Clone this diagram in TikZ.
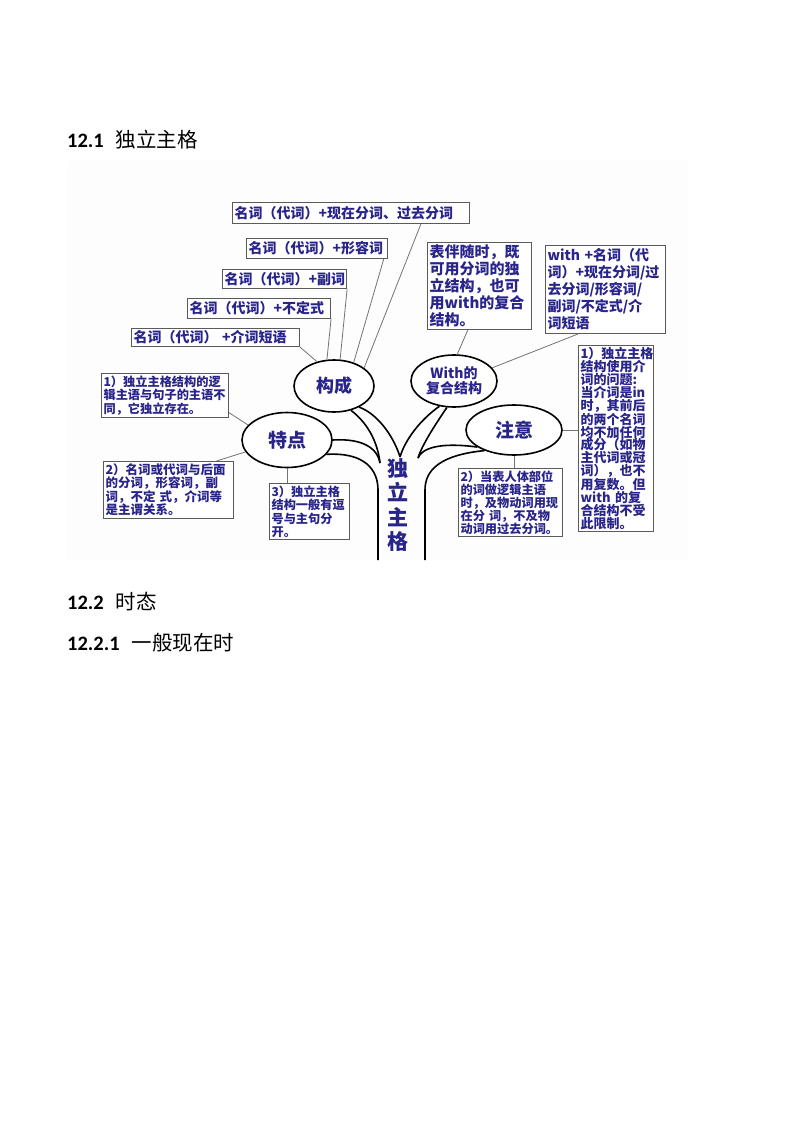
\documentclass[tikz,border=0pt]{standalone}
\usepackage{fontspec}
\setmainfont{Carlito}
\newfontfamily\cjk{Noto Sans CJK SC}
\usetikzlibrary{shapes.geometric}
\definecolor{ink}{RGB}{40,36,138}
\definecolor{frame}{RGB}{90,90,90}

\begin{document}
\begin{tikzpicture}[
	x=1pt, y=-1pt,
	note/.style={rectangle, draw=frame, line width=1.1pt, fill=white, text=ink, inner sep=2pt, align=left, anchor=north west},
	bubble/.style={ellipse, draw, line width=1.6pt, fill=white, text=ink, inner sep=0pt, align=center},
	link/.style={draw=black!55, line width=0.8pt},
	branch/.style={line width=1.6pt},
	heading/.style={anchor=west, inner sep=0pt, font=\fontsize{20.5}{24}\selectfont}
	]
	\useasboundingbox (0,0) rectangle (800,1132);
	\fill[black!0.6] (67,161) rectangle (688,560);
	
	% Headings
	\node[heading] (h121) at (67,140) {\textbf{12.1}\hspace{12pt}{\cjk 独立主格}};
	\node[heading] (h122) at (67,602) {\textbf{12.2}\hspace{12pt}{\cjk 时态}};
	\node[heading] (h1221) at (67,643) {\textbf{12.2.1}\hspace{12pt}{\cjk 一般现在时}};
	
	% Bubbles
	\node[bubble, minimum width=80, minimum height=52, font={\cjk\bfseries\fontsize{18}{20}\selectfont}] (compose) at (334,386) {构成};
	\node[bubble, minimum width=90, minimum height=55, font={\cjk\bfseries\fontsize{19}{21}\selectfont}] (feature) at (287,440) {特点};
	\node[bubble, minimum width=86, minimum height=52, font={\cjk\bfseries\fontsize{14}{15}\selectfont}] (withcx) at (454,381) {With的\\复合结构};
	\node[bubble, minimum width=96, minimum height=50, font={\cjk\bfseries\fontsize{19}{21}\selectfont}] (caution) at (514,430) {注意};
	\node[text=ink, align=center, inner sep=0pt, font={\cjk\bfseries\fontsize{21}{24.5}\selectfont}] (trunk) at (398,505) {独\\立\\主\\格};
	
	% Notes of 构成
	\node[note, text width=233, minimum height=21, font={\cjk\bfseries\fontsize{14}{15}\selectfont}] (nounpart) at (232,202) {名词（代词）+现在分词、过去分词};
	\node[note, text width=137, minimum height=20, font={\cjk\bfseries\fontsize{14}{15}\selectfont}] (nounadj) at (246,238) {名词（代词）+形容词};
	\node[note, text width=120, minimum height=19, font={\cjk\bfseries\fontsize{14}{15}\selectfont}] (nounadv) at (222,269) {名词（代词）+副词};
	\node[note, text width=139, minimum height=20, font={\cjk\bfseries\fontsize{14}{15}\selectfont}] (nouninf) at (187,298) {名词（代词）+不定式};
	\node[note, text width=164, minimum height=18, font={\cjk\bfseries\fontsize{14}{15}\selectfont}] (nounprep) at (131,328) {名词（代词） +介词短语};
	
	% Notes of With
	\node[note, text width=100, minimum height=87, font={\cjk\bfseries\fontsize{15}{17}\selectfont}] (accomp) at (427,242) {表伴随时，既\\可用分词的独\\立结构，也可\\用with的复合\\结构。};
	\node[note, text width=116, minimum height=88, font={\cjk\bfseries\fontsize{14}{17}\selectfont}] (withrule) at (545,245) {with +名词（代\\词）+现在分词/过\\去分词/形容词/\\副词/不定式/介\\词短语};
	
	% Notes of 注意
	\node[note, text width=71, minimum height=180, font={\cjk\bfseries\fontsize{13}{12.8}\selectfont}] (caution1) at (578,345) {1）独立主格\\结构使用介\\词的问题:\\当介词是in\\时，其前后\\的两个名词\\均不加任何\\成分（如物\\主代词或冠\\词），也不\\用复数。但\\with 的复\\合结构不受\\此限制。};
	\node[note, text width=100, minimum height=65, font={\cjk\bfseries\fontsize{12.2}{13}\selectfont}] (caution2) at (458,468) {2）当表人体部位\\的词做逻辑主语\\时，及物动词用现\\在分 词，不及物\\动词用过去分词。};
	
	% Notes of 特点
	\node[note, text width=123, minimum height=44, font={\cjk\bfseries\fontsize{12.2}{13.5}\selectfont}] (feature1) at (101,373) {1）独立主格结构的逻\\辑主语与句子的主语不\\同，它独立存在。};
	\node[note, text width=126, minimum height=54, font={\cjk\bfseries\fontsize{12.5}{13.5}\selectfont}] (feature2) at (103,461) {2）名词或代词与后面\\的分词，形容词，副\\词，不定 式，介词等\\是主谓关系。};
	\node[note, text width=76, minimum height=55, font={\cjk\bfseries\fontsize{12.2}{13.5}\selectfont}] (feature3) at (269,483) {3）独立主格\\结构一般有逗\\号与主句分\\开。};
	
	% Trunk points
	\coordinate (jl) at (380,463);
	\coordinate (jm) at (400,457);
	\coordinate (jr) at (418,458);
	\coordinate (tl) at (378,490);
	\coordinate (tr) at (425,490);
	\coordinate (bl) at (378,560);
	\coordinate (br) at (425,560);
	
	% Branches
	\draw[branch] (feature.0) .. controls (365,438) and (378,450) .. (jl);
	\draw[branch] (compose.-55) .. controls (370,425) and (378,445) .. (jl);
	\draw[branch] (compose.-40) .. controls (380,415) and (395,440) .. (jm);
	\draw[branch] (withcx.-120) .. controls (420,420) and (405,440) .. (jm);
	\draw[branch] (withcx.-105) .. controls (435,425) and (422,445) .. (jr);
	\draw[branch] (caution.-155) .. controls (440,442) and (422,448) .. (jr);
	\draw[branch] (feature.-20) .. controls (365,452) and (378,470) .. (tl) -- (bl);
	\draw[branch] (caution.-145) .. controls (440,455) and (425,470) .. (tr) -- (br);
	
	% Links
	\draw[link] (nounpart.-9) -- (compose.31);
	\draw[link] (nounadj.-9.5) -- (compose.50);
	\draw[link] (nounadv.-9.8) -- (compose.77);
	\draw[link] (nouninf.-8.8) -- (compose.105);
	\draw[link] (nounprep.south east) -- (compose.125);
	\draw[link] (accomp.-105.4) -- (withcx.83);
	\draw[link] (withrule.-122.5) -- (withcx.19);
	\draw[link] (caution.east) -- (caution.east -| caution1.west);
	\draw[link] (caution.south) -- (caution.south |- caution2.north);
	\draw[link] (feature1.-15) -- (feature.159);
	\draw[link] (feature2.31.5) -- (feature.196);
	\draw[link] (feature.south) -- (feature.south |- feature3.north);
	
\end{tikzpicture}
\end{document}
